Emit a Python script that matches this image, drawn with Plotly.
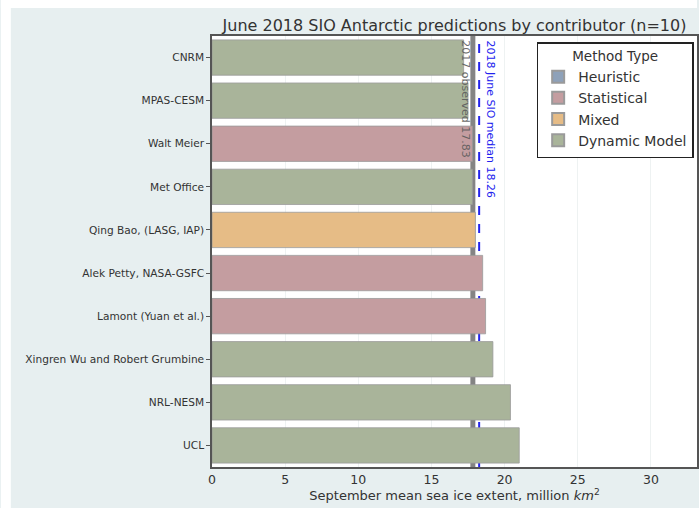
import plotly.graph_objects as go

contributors = ["CNRM", "MPAS-CESM", "Walt Meier", "Met Office", "Qing Bao, (LASG, IAP)",
                "Alek Petty, NASA-GSFC", "Lamont (Yuan et al.)", "Xingren Wu and Robert Grumbine",
                "NRL-NESM", "UCL"]
extent = [17.2, 17.5, 17.8, 17.8, 18.0, 18.5, 18.7, 19.2, 20.4, 21.0]
method = ["Dynamic Model", "Dynamic Model", "Statistical", "Dynamic Model", "Mixed",
          "Statistical", "Statistical", "Dynamic Model", "Dynamic Model", "Dynamic Model"]
method_types = ["Heuristic", "Statistical", "Mixed", "Dynamic Model"]
method_colors = {"Heuristic": "#8ea1b9", "Statistical": "#c49da0",
                 "Mixed": "#e6bc86", "Dynamic Model": "#a9b49a"}
observed_2017 = 17.83
median_2018 = 18.26
x_ticks = [0, 5, 10, 15, 20, 25, 30]

FONT = "DejaVu Sans"
fig = go.Figure()
for m in method_types:
    xs = [v for v, mm in zip(extent, method) if mm == m]
    ys = [c for c, mm in zip(contributors, method) if mm == m]
    if not xs:
        xs, ys = [None], [contributors[0]]
    fig.add_trace(go.Bar(x=xs, y=ys, orientation="h", name=m, width=0.82,
                         marker=dict(color=method_colors[m], line=dict(color="#9a9a9a", width=0.8)),
                         showlegend=True))

fig.add_vline(x=observed_2017, line=dict(color="rgba(110,110,110,0.85)", width=5), layer="below")
fig.add_vline(x=median_2018, line=dict(color="#2222ee", width=2, dash="dash"), layer="below")

fig.add_annotation(x=observed_2017, xref="x", y=0.995, yref="paper", yanchor="top",
                   xanchor="right", xshift=1, textangle=90, showarrow=False,
                   text="2017 observed " + str(observed_2017),
                   font=dict(family=FONT, size=11, color="rgba(90,90,90,0.9)"))
fig.add_annotation(x=median_2018, xref="x", y=0.995, yref="paper", yanchor="top",
                   xanchor="left", xshift=3, textangle=90, showarrow=False,
                   text="2018 June SIO median " + str(median_2018),
                   font=dict(family=FONT, size=11, color="#2222ee"))

# white strips framing the figure background (as in the source image)
fig.add_shape(type="rect", xref="paper", yref="paper", x0=-212/487, x1=1.0,
              y0=1 + 28/431, y1=1 + 40/431, fillcolor="white", line_width=0, layer="below")
fig.add_shape(type="rect", xref="paper", yref="paper", x0=-212/487, x1=-202/487,
              y0=-45/431, y1=1 + 40/431, fillcolor="white", line_width=0, layer="below")

fig.update_layout(
    width=699, height=508,
    margin=dict(l=212, r=0, t=36, b=41),
    paper_bgcolor="#e7eff0", plot_bgcolor="white",
    barmode="overlay",
    title=dict(text="June 2018 SIO Antarctic predictions by contributor (n=10)",
               x=0.5, xref="paper", xanchor="center", y=1 - 25/508, yref="container",
               yanchor="middle", font=dict(family=FONT, size=16, color="#333333")),
    font=dict(family=FONT, color="#333333"),
    legend=dict(x=(538 - 212) / 487, y=1 - (42 - 36) / 431, xanchor="left", yanchor="top",
                bgcolor="white", bordercolor="#222222", borderwidth=1.5,
                title=dict(text="Method Type", side="top center",
                           font=dict(family=FONT, size=13.5, color="#333333")),
                font=dict(family=FONT, size=14, color="#333333"),
                itemsizing="constant", tracegroupgap=0),
    xaxis=dict(range=[0, 33.15], tickvals=x_ticks, showgrid=True, gridcolor="#eef2f2",
               zeroline=False, showline=True, linecolor="#555555", linewidth=1.5, mirror=True,
               ticks="", tickfont=dict(family=FONT, size=12.5, color="#333333"),
               title=dict(text="September mean sea ice extent, million <i>km</i><sup>2</sup>",
                          font=dict(family=FONT, size=13, color="#333333"), standoff=3)),
    yaxis=dict(type="category", categoryorder="array", categoryarray=contributors,
               autorange="reversed",
               showgrid=False, showline=True, linecolor="#555555", linewidth=1.5, mirror=True,
               ticks="outside", ticklen=4, tickcolor="#555555",
               tickfont=dict(family=FONT, size=10.6, color="#333333")),
)
fig.write_html("out.html")
